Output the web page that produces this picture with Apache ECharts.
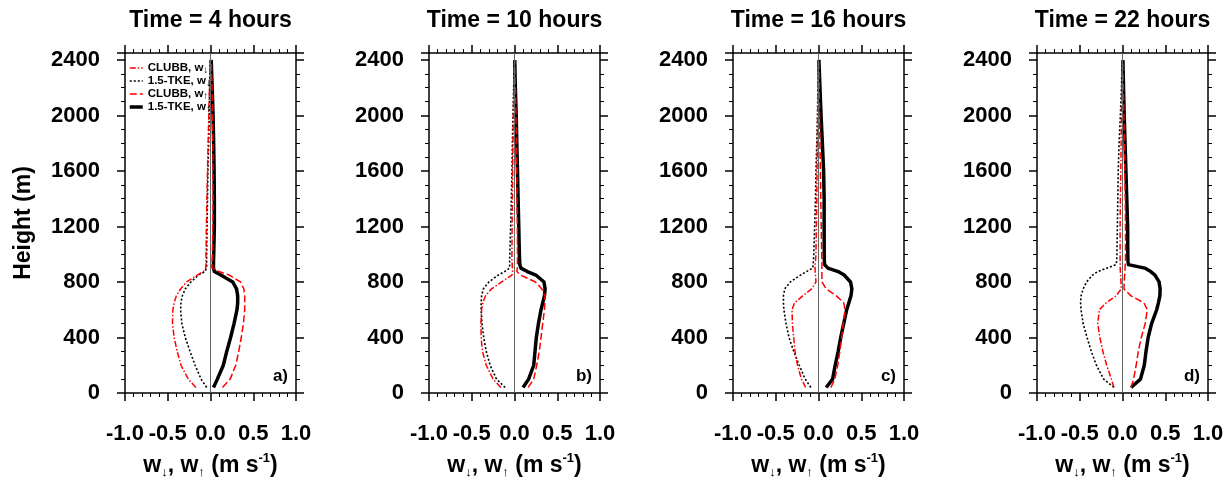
<!DOCTYPE html>
<html><head><meta charset="utf-8">
<script src="https://cdn.jsdelivr.net/npm/echarts@6/dist/echarts.min.js"></script>
<style>html,body{margin:0;padding:0;background:#fff}#c{width:1231px;height:478px}</style>
</head><body><div id="c"></div>
<script>
// ---------------- data ----------------
const heights = [40,100,200,300,400,500,600,650,700,750,800,850,875,900,925,950,1000,1200,1400,1600,1800,2000,2200,2400];

const panelTitles = ['Time = 4 hours','Time = 10 hours','Time = 16 hours','Time = 22 hours'];
const panelTags = ['a)','b)','c)','d)'];
const seriesNames = ['CLUBB, w↓','1.5-TKE, w↓','CLUBB, w↑','1.5-TKE, w↑'];
const xTicks = [-1.0,-0.5,0.0,0.5,1.0];
const yTicks = [0,400,800,1200,1600,2000,2400];

// Time = 4 hours
const clubbDown4 = [-0.17,-0.26,-0.345,-0.39,-0.425,-0.445,-0.44,-0.425,-0.40,-0.35,-0.28,-0.155,-0.085,-0.055,-0.054,-0.053,-0.052,-0.048,-0.042,-0.035,-0.028,-0.02,-0.012,-0.005];
const tkeDown4   = [-0.045,-0.11,-0.18,-0.24,-0.295,-0.335,-0.35,-0.345,-0.33,-0.295,-0.23,-0.14,-0.065,-0.046,-0.045,-0.045,-0.045,-0.04,-0.035,-0.03,-0.022,-0.015,-0.01,-0.005];
const clubbUp4   = [0.14,0.23,0.295,0.33,0.36,0.385,0.40,0.40,0.40,0.39,0.35,0.22,0.10,0.018,0.018,0.02,0.022,0.028,0.03,0.03,0.028,0.024,0.018,0.008];
const tkeUp4     = [0.035,0.08,0.15,0.19,0.235,0.275,0.31,0.318,0.318,0.305,0.26,0.12,0.045,0.035,0.035,0.035,0.038,0.045,0.045,0.042,0.037,0.03,0.02,0.008];
// Time = 10 hours
const clubbDown10 = [-0.16,-0.25,-0.33,-0.375,-0.39,-0.393,-0.385,-0.37,-0.34,-0.27,-0.15,-0.03,-0.023,-0.025,-0.027,-0.03,-0.03,-0.028,-0.025,-0.022,-0.018,-0.013,-0.008,-0.003];
const tkeDown10   = [-0.11,-0.21,-0.285,-0.33,-0.36,-0.38,-0.39,-0.39,-0.385,-0.365,-0.30,-0.19,-0.115,-0.058,-0.057,-0.057,-0.055,-0.045,-0.037,-0.03,-0.025,-0.018,-0.01,-0.003];
const clubbUp10   = [0.16,0.225,0.26,0.29,0.31,0.33,0.35,0.355,0.357,0.32,0.245,0.07,0.028,0.032,0.034,0.035,0.035,0.033,0.03,0.027,0.022,0.017,0.01,0.003];
const tkeUp10     = [0.10,0.165,0.225,0.24,0.255,0.28,0.31,0.33,0.35,0.358,0.345,0.25,0.15,0.075,0.062,0.06,0.057,0.05,0.042,0.035,0.027,0.02,0.01,0.003];
// Time = 16 hours
const clubbDown16 = [-0.15,-0.2,-0.245,-0.275,-0.29,-0.305,-0.31,-0.28,-0.185,-0.08,-0.03,-0.035,-0.04,-0.04,-0.04,-0.035,-0.03,-0.025,-0.02,-0.017,-0.013,-0.01,-0.006,-0.003];
const tkeDown16   = [-0.09,-0.155,-0.225,-0.29,-0.345,-0.38,-0.405,-0.41,-0.41,-0.395,-0.33,-0.21,-0.14,-0.068,-0.062,-0.06,-0.055,-0.045,-0.035,-0.03,-0.02,-0.012,-0.007,-0.003];
const clubbUp16   = [0.145,0.19,0.225,0.25,0.27,0.29,0.31,0.295,0.21,0.09,0.04,0.04,0.04,0.04,0.04,0.04,0.038,0.032,0.027,0.022,0.017,0.012,0.008,0.003];
const tkeUp16     = [0.09,0.165,0.195,0.23,0.26,0.295,0.33,0.355,0.38,0.39,0.375,0.30,0.23,0.11,0.072,0.068,0.067,0.066,0.066,0.06,0.045,0.03,0.017,0.005];
// Time = 22 hours
const clubbDown22 = [-0.10,-0.13,-0.185,-0.23,-0.265,-0.29,-0.27,-0.19,-0.075,-0.015,-0.018,-0.022,-0.025,-0.027,-0.028,-0.028,-0.028,-0.028,-0.025,-0.02,-0.016,-0.012,-0.007,-0.003];
const tkeDown22   = [-0.10,-0.22,-0.305,-0.365,-0.415,-0.46,-0.485,-0.49,-0.485,-0.46,-0.42,-0.35,-0.29,-0.18,-0.075,-0.068,-0.065,-0.06,-0.055,-0.05,-0.04,-0.025,-0.012,-0.004];
const clubbUp22   = [0.10,0.13,0.16,0.185,0.22,0.265,0.29,0.25,0.10,0.018,0.02,0.025,0.027,0.03,0.032,0.034,0.035,0.035,0.032,0.028,0.022,0.016,0.01,0.003];
const tkeUp22     = [0.10,0.21,0.255,0.275,0.30,0.34,0.40,0.42,0.437,0.44,0.428,0.38,0.33,0.26,0.07,0.064,0.062,0.06,0.05,0.04,0.03,0.02,0.012,0.005];

const panelData = [
  [clubbDown4, tkeDown4, clubbUp4, tkeUp4],
  [clubbDown10, tkeDown10, clubbUp10, tkeUp10],
  [clubbDown16, tkeDown16, clubbUp16, tkeUp16],
  [clubbDown22, tkeDown22, clubbUp22, tkeUp22]
];

// ---------------- layout / style ----------------
const FONT = "'Liberation Sans', Arial, Helvetica, sans-serif";
const gridLeft = [125, 429, 733, 1037];
const gridW = 171, gridTop = 53, gridH = 340;
const yMax = 2450;

const styles = [
  {color:'#ff0000', width:1.5, type:[6,2,1.5,2], z:4},   // CLUBB down: dash-dot
  {color:'#000000', width:1.6, type:[2,2], z:3},         // TKE down: dotted
  {color:'#ff0000', width:1.5, type:[7,3], z:4},         // CLUBB up: dashed
  {color:'#000000', width:3.5, type:'solid', z:2}        // TKE up: thick solid
];

const axisLineStyle = {color:'#000', width:1.5};
const grids = [], xAxes = [], yAxes = [], series = [], graphics = [];

const xName = '{a|w}{s|↓}{a|, w}{s|↑}{a| (m s}{p|-1}{a|)}';
const richName = {
  a:{fontSize:23, fontWeight:'bold', lineHeight:27, fontFamily:FONT, color:'#000'},
  s:{fontSize:13, fontWeight:'bold', lineHeight:13, verticalAlign:'bottom', fontFamily:FONT, color:'#000'},
  p:{fontSize:13, fontWeight:'bold', lineHeight:18, verticalAlign:'top', fontFamily:FONT, color:'#000'}
};

for (let i = 0; i < 4; i++) {
  grids.push({left:gridLeft[i], top:gridTop, width:gridW, height:gridH,
    containLabel:false, outerBoundsMode:'none'});
  const baseX = {
    gridIndex:i, type:'value', min:xTicks[0], max:xTicks[xTicks.length-1], interval:0.5,
    axisLine:{show:true, onZero:false, lineStyle:axisLineStyle},
    axisTick:{show:true, inside:false, length:8, lineStyle:{color:'#000', width:1.5}},
    minorTick:{show:true, splitNumber:5, length:4, lineStyle:{color:'#000', width:1}},
    splitLine:{show:false}, minorSplitLine:{show:false}
  };
  xAxes.push(Object.assign({}, baseX, {
    position:'bottom',
    axisLabel:{show:true, margin:30, fontSize:22, fontWeight:'bold', color:'#000', fontFamily:FONT,
      formatter:v => (v < 0 ? '-' : '') + Math.abs(v).toFixed(1)},
    name:xName, nameLocation:'middle', nameGap:59,
    nameTextStyle:{fontSize:23, fontWeight:'bold', color:'#000', fontFamily:FONT, rich:richName}
  }));
  xAxes.push(Object.assign({}, baseX, {position:'top', axisLabel:{show:false}}));

  const baseY = {
    gridIndex:i, type:'value', min:0, max:yMax, interval:400,
    axisLine:{show:true, onZero:false, lineStyle:axisLineStyle},
    axisTick:{show:true, inside:false, length:8, lineStyle:{color:'#000', width:1.5}},
    minorTick:{show:true, splitNumber:4, length:4, lineStyle:{color:'#000', width:1}},
    splitLine:{show:false}, minorSplitLine:{show:false}
  };
  const yl = Object.assign({}, baseY, {
    position:'left',
    axisLabel:{show:true, margin:25, fontSize:22, fontWeight:'bold', color:'#000', fontFamily:FONT,
      formatter:v => (yTicks.indexOf(v) >= 0 ? String(v) : '')}
  });
  if (i === 0) {
    Object.assign(yl, {name:'Height (m)', nameLocation:'middle', nameRotate:90, nameGap:90,
      nameTextStyle:{fontSize:23, fontWeight:'bold', color:'#000', fontFamily:FONT}});
  }
  yAxes.push(yl);
  yAxes.push(Object.assign({}, baseY, {position:'right', axisLabel:{show:false}}));

  // draw order: TKE up, TKE down, CLUBB up, CLUBB down
  [3,1,2,0].forEach(k => {
    const st = styles[k];
    const s = {
      type:'line', name:seriesNames[k], xAxisIndex:2*i, yAxisIndex:2*i,
      data:heights.map((h, j) => [panelData[i][k][j], h]),
      symbol:'none', showSymbol:false, smooth:false, clip:true, z:st.z,
      color:st.color,
      lineStyle:{color:st.color, width:st.width, type:st.type, cap:'butt', join:'round'},
      emphasis:{disabled:true}, animation:false
    };
    if (k === 3) {
      s.markLine = {silent:true, symbol:'none', animation:false, label:{show:false},
        lineStyle:{color:'#666', width:1, type:'solid'}, data:[{xAxis:0}]};
    }
    series.push(s);
  });

  const cx = gridLeft[i] + gridW / 2;
  graphics.push({type:'text', x:cx, y:21, style:{text:panelTitles[i], textAlign:'center', align:'center',
    textVerticalAlign:'middle', verticalAlign:'middle', fontSize:23, fontWeight:'bold', fontFamily:FONT, fill:'#000'}});
  graphics.push({type:'text', x:gridLeft[i] + gridW - 8, y:gridTop + gridH - 17, style:{text:panelTags[i],
    textAlign:'right', align:'right', textVerticalAlign:'middle', verticalAlign:'middle',
    fontSize:17, fontWeight:'bold', fontFamily:FONT, fill:'#000'}});
}

const chart = echarts.init(document.getElementById('c'), null, {renderer:'canvas'});
chart.setOption({
  animation:false,
  backgroundColor:'#fff',
  textStyle:{fontFamily:FONT},
  grid:grids, xAxis:xAxes, yAxis:yAxes, series:series, graphic:graphics,
  legend:{
    z:20,
    data:seriesNames, orient:'vertical', left:gridLeft[0] + 3, top:62,
    itemWidth:13, itemHeight:12, itemGap:0, padding:0, selectedMode:false,
    itemStyle:{opacity:0, borderWidth:0},
    lineStyle:{width:'inherit', type:'inherit', color:'inherit', opacity:1},
    textStyle:{fontSize:11.5, fontWeight:'bold', color:'#000', fontFamily:FONT,
      rich:{
        t:{fontSize:11.5, fontWeight:'bold', lineHeight:14, fontFamily:FONT, color:'#000'},
        s:{fontSize:10, fontWeight:'bold', lineHeight:10, verticalAlign:'bottom', fontFamily:FONT, color:'#000'}
      }},
    formatter:name => '{t|' + name.slice(0, -1) + '}{s|' + name.slice(-1) + '}'
  }
});
</script>
</body></html>
